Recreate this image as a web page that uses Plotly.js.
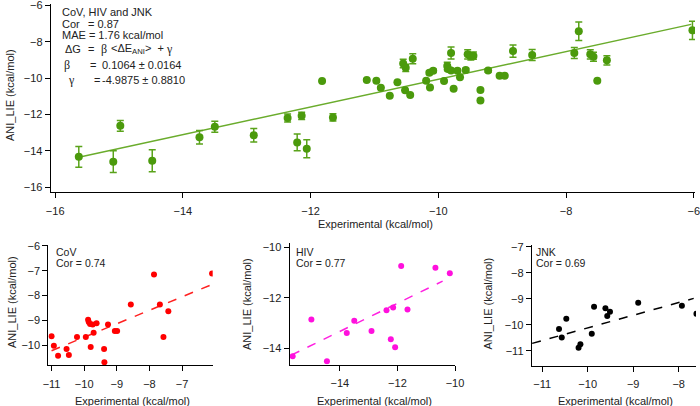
<!DOCTYPE html>
<html>
<head>
<meta charset="utf-8">
<script src="https://cdn.plot.ly/plotly-3.0.1.min.js"></script>
<style>html,body{margin:0;padding:0;background:#fff;}#chart{width:700px;height:406px;}</style>
</head>
<body>
<div id="chart"></div>
<script>
// ---------- Combined data (CoV, HIV and JNK) ----------
const mainX = [-15.63,-15.09,-14.98,-14.48,-13.74,-13.50,-12.89,-12.36,-12.21,-12.14,-12.06,-11.82,-11.65,
  -11.12,-10.97,-10.90,-10.76,-10.64,-10.55,-10.52,-10.51,-10.44,-10.40,-10.19,-10.14,-10.13,-10.08,
  -9.91,-9.86,-9.85,-9.80,-9.80,-9.76,-9.70,-9.66,-9.57,-9.54,-9.49,-9.45,-9.34,-9.34,-9.22,-9.04,-8.96,
  -8.83,-8.53,-7.87,-7.80,-7.62,-7.57,-7.51,-7.36,-6.02];
const mainY = [-14.32,-14.59,-12.62,-14.54,-13.25,-12.67,-13.14,-12.19,-13.53,-12.07,-13.88,-10.16,-12.16,
  -10.10,-10.14,-10.53,-10.97,-10.23,-9.19,-10.67,-9.43,-10.93,-8.93,-10.14,-9.70,-10.51,-9.59,
  -10.16,-9.33,-9.50,-9.58,-8.62,-10.58,-9.59,-9.95,-9.55,-8.69,-8.80,-8.76,-10.65,-11.22,-9.58,-9.87,-9.87,
  -8.51,-8.73,-8.62,-7.42,-8.69,-8.82,-10.14,-9.02,-7.37];
const mainErr = [0.57,0.60,0.30,0.60,0.37,0.30,0.37,0.22,0.46,0.20,0.50,0,0.20,
  0,0,0,0,0,0.23,0,0.20,0,0.27,0,0.10,0,0.10,
  0,0.20,0.10,0.10,0.33,0,0.10,0,0.10,0.25,0.20,0.20,0,0,0.10,0.05,0.05,
  0.34,0.30,0.30,0.51,0.25,0.25,0,0.25,0.50];
const mainFit = {slope: 0.762, intercept: -2.44, xFrom: -15.63, xTo: -6.04};

// ---------- CoV ----------
const covX = [-11.00,-10.93,-10.80,-10.54,-10.47,-10.22,-9.95,-9.88,-9.86,-9.82,-9.74,-9.62,-9.80,-9.71,
  -9.39,-9.38,-9.27,-9.06,-8.99,-8.57,-7.86,-7.68,-7.57,-7.42,-6.08];
const covY = [-9.65,-10.03,-10.43,-10.16,-10.40,-9.68,-9.68,-8.98,-9.07,-9.15,-9.17,-9.12,-10.08,-9.51,
  -10.16,-10.70,-9.17,-9.43,-9.43,-8.36,-7.15,-8.36,-9.68,-8.64,-7.11];
const covFit = {slope: 0.544, intercept: -4.246, xFrom: -11.0, xTo: -6.13};

// ---------- HIV ----------
const hivX = [-15.64,-14.99,-14.45,-13.76,-13.50,-12.90,-12.38,-12.23,-12.15,-12.08,-11.87,-11.65,-10.68,-10.18];
const hivY = [-14.31,-12.86,-14.51,-13.39,-12.91,-13.31,-12.49,-13.64,-12.38,-13.96,-10.74,-12.46,-10.81,-11.03];
const hivFit = {slope: 0.557, intercept: -5.531, xFrom: -15.69, xTo: -10.43};

// ---------- JNK ----------
const jnkX = [-10.63,-10.57,-10.47,-10.20,-10.16,-9.91,-9.86,-9.61,-9.57,-9.51,-8.89,-7.93,-7.61];
const jnkY = [-10.16,-10.48,-9.76,-10.88,-10.74,-10.34,-9.30,-9.36,-9.66,-9.49,-9.15,-9.26,-9.57];
const jnkFit = {slope: 0.487, intercept: -5.246, xFrom: -11.22, xTo: -7.67};

// ---------- tick values ----------
const mainXTicks = [-16,-14,-12,-10,-8,-6];
const mainYTicks = [-16,-14,-12,-10,-8,-6];
const covXTicks = [-11,-10,-9,-8,-7];
const covYTicks = [-10,-9,-8,-7,-6];
const hivXTicks = [-14,-12,-10];
const hivYTicks = [-14,-12,-10];
const jnkXTicks = [-11,-10,-9,-8];
const jnkYTicks = [-11,-10,-9,-8,-7];

const W = 700, H = 406;
const FONT = 'Liberation Sans, Arial, sans-serif';
const SERIF = 'Liberation Serif, Times New Roman, serif';
function fitLine(f){ return {x:[f.xFrom, f.xTo], y:[f.slope*f.xFrom+f.intercept, f.slope*f.xTo+f.intercept]}; }
function dom(a,b){ return [a/W, b/W]; }
function ydom(top,bottom){ return [1-bottom/H, 1-top/H]; }

const green = '#4b9a0c', greenLine = '#6aac2c';
const mf = fitLine(mainFit), cf = fitLine(covFit), hf = fitLine(hivFit), jf = fitLine(jnkFit);

const traces = [
  {x: mf.x, y: mf.y, mode:'lines', line:{color:greenLine, width:1.5}, xaxis:'x', yaxis:'y', hoverinfo:'skip'},
  {x: mainX, y: mainY, mode:'markers', type:'scatter', xaxis:'x', yaxis:'y',
   marker:{color:green, size:8},
   error_y:{type:'data', array: mainErr, visible:true, color:'#5aa31a', thickness:1.5, width:3.5}},
  {x: cf.x, y: cf.y, mode:'lines', line:{color:'#ff2020', width:1.5, dash:'dash'}, xaxis:'x2', yaxis:'y2'},
  {x: covX, y: covY, mode:'markers', marker:{color:'#ff0000', size:6}, xaxis:'x2', yaxis:'y2'},
  {x: hf.x, y: hf.y, mode:'lines', line:{color:'#ff20e0', width:1.5, dash:'dash'}, xaxis:'x3', yaxis:'y3'},
  {x: hivX, y: hivY, mode:'markers', marker:{color:'#ff10dd', size:6}, xaxis:'x3', yaxis:'y3'},
  {x: jf.x, y: jf.y, mode:'lines', line:{color:'#000', width:1.5, dash:'dash'}, xaxis:'x4', yaxis:'y4'},
  {x: jnkX, y: jnkY, mode:'markers', marker:{color:'#000', size:6}, xaxis:'x4', yaxis:'y4'}
];

function ax(extra){
  return Object.assign({showline:true, linecolor:'#000', linewidth:1, ticks:'outside', ticklen:5,
    tickcolor:'#000', tickwidth:1, showgrid:false, zeroline:false, tickmode:'array',
    ticklabeloverflow:'allow',
    tickfont:{family:FONT, size:11, color:'#222'}, automargin:false, fixedrange:true}, extra);
}

const annots = [];
function t(text, x, y, opts){
  annots.push(Object.assign({text:text, x:x/W, y:1-y/H, xref:'paper', yref:'paper', showarrow:false,
    xanchor:'left', yanchor:'middle', font:{family:FONT, size:11, color:'#222'}}, opts||{}));
}
// main text block
t('CoV, HIV and JNK', 60, 12);
t('Cor', 60, 23.7); t('= 0.87', 86, 23.7);
t('MAE = 1.76 kcal/mol', 60, 34.7);
t('\u0394G', 63, 49.3); t('=', 86, 49.3);
t('\u03b2', 99, 49.3, {font:{family:SERIF, size:12, color:'#222'}});
t('<\u0394E<sub>ANI</sub>>  +', 109, 49.3);
t('\u03b3', 164, 49.3, {font:{family:SERIF, size:12, color:'#222'}});
t('\u03b2', 62, 65.3, {font:{family:SERIF, size:12, color:'#222'}});
t('=', 88, 65.3); t('0.1064 \u00b1 0.0164', 100, 65.3);
t('\u03b3', 66, 80, {font:{family:SERIF, size:12, color:'#222'}});
t('=', 92, 80); t('-4.9875 \u00b1 0.8810', 100, 80);
// subplot labels
t('CoV', 54, 252.3, {font:{family:FONT, size:10.5, color:'#222'}});
t('Cor = 0.74', 54, 263.3, {font:{family:FONT, size:10.5, color:'#222'}});
t('HIV', 294, 251.7, {font:{family:FONT, size:10.5, color:'#222'}});
t('Cor = 0.77', 294, 262.7, {font:{family:FONT, size:10.5, color:'#222'}});
t('JNK', 534, 252.3, {font:{family:FONT, size:10.5, color:'#222'}});
t('Cor = 0.69', 534, 263.3, {font:{family:FONT, size:10.5, color:'#222'}});
// axis titles
const xt = 'Experimental (kcal/mol)', yt = 'ANI_LIE (kcal/mol)';
t(xt, 375, 223.5, {xanchor:'center'});
t(yt, 10, 95, {xanchor:'center', textangle:-90});
t(xt, 132.5, 400.5, {xanchor:'center'});
t(xt, 374, 400.5, {xanchor:'center'});
t(xt, 615, 400.5, {xanchor:'center'});
t(yt, 12, 302, {xanchor:'center', textangle:-90});
t(yt, 247, 304, {xanchor:'center', textangle:-90});
t(yt, 487.5, 304, {xanchor:'center', textangle:-90});

const layout = {
  width: W, height: H, margin:{l:0, r:0, t:0, b:0, pad:0},
  paper_bgcolor:'#fff', plot_bgcolor:'rgba(0,0,0,0)', showlegend:false,
  xaxis: ax({domain: dom(50.7, 695), range:[-16.07,-5.98], tickvals: mainXTicks, anchor:'y', ticklabelstandoff:4}),
  yaxis: ax({domain: ydom(3.6, 191.7), range:[-16.24,-5.9], tickvals: mainYTicks, anchor:'x'}),
  xaxis2: ax({domain: dom(48.3, 212.7), range:[-11.1,-6.06], tickvals: covXTicks, anchor:'y2', ticklabelstandoff:3}),
  yaxis2: ax({domain: ydom(245, 365.3), range:[-10.82,-5.96], tickvals: covYTicks, anchor:'x2'}),
  xaxis3: ax({domain: dom(289.5, 455), range:[-15.75,-10], tickvals: hivXTicks, anchor:'y3', ticklabelstandoff:3}),
  yaxis3: ax({domain: ydom(243.3, 364.5), range:[-14.64,-9.84], tickvals: hivYTicks, anchor:'x3'}),
  xaxis4: ax({domain: dom(531.7, 696), range:[-11.23,-7.62], tickvals: jnkXTicks, anchor:'y4', ticklabelstandoff:3}),
  yaxis4: ax({domain: ydom(245, 365.5), range:[-11.56,-6.93], tickvals: jnkYTicks, anchor:'x4'}),
  annotations: annots
};
Plotly.newPlot('chart', traces, layout, {staticPlot:true, displayModeBar:false});
</script>
</body>
</html>
